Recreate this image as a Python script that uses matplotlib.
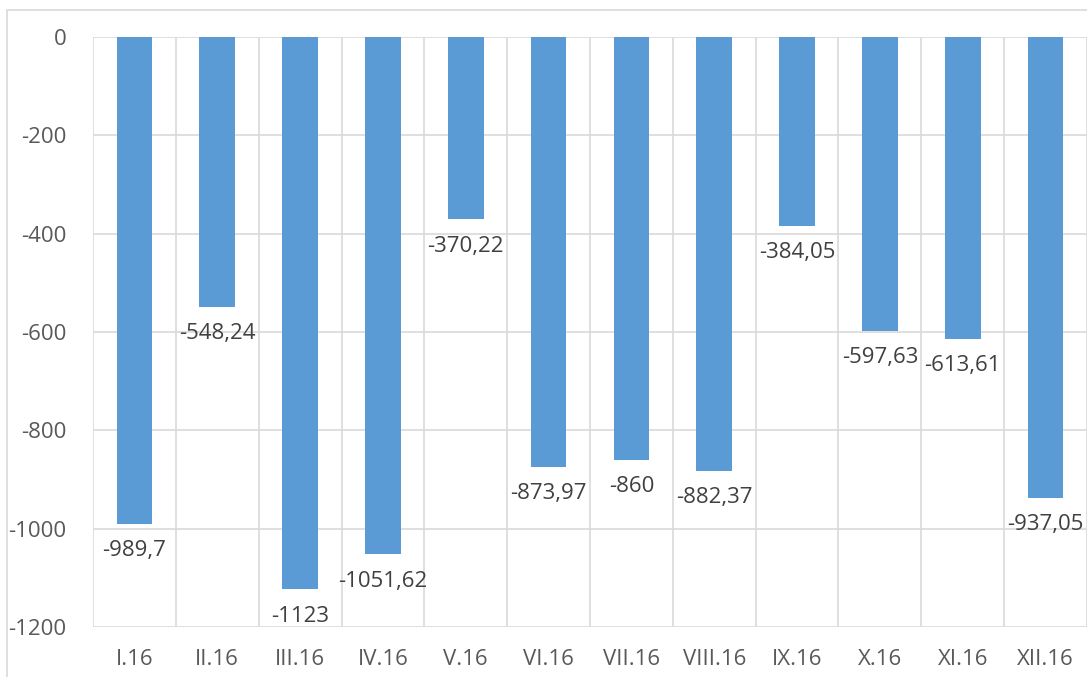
import matplotlib.pyplot as plt
import numpy as np
from matplotlib.patches import Rectangle

months = ["I.16", "II.16", "III.16", "IV.16", "V.16", "VI.16",
          "VII.16", "VIII.16", "IX.16", "X.16", "XI.16", "XII.16"]
values = [-989.7, -548.24, -1123, -1051.62, -370.22, -873.97,
          -860, -882.37, -384.05, -597.63, -613.61, -937.05]
labels = ["-989,7", "-548,24", "-1123", "-1051,62", "-370,22", "-873,97",
          "-860", "-882,37", "-384,05", "-597,63", "-613,61", "-937,05"]
yticks = [0, -200, -400, -600, -800, -1000, -1200]

W, H = 1087, 677
plt.rcParams['font.family'] = ['Open Sans', 'DejaVu Sans']
fig = plt.figure(figsize=(W / 100, H / 100), dpi=100)
# thin frame round the chart area
fig.patches.append(Rectangle((7 / W, -0.01), 1.0, 1 - 10 / H + 0.01,
                             transform=fig.transFigure, fill=False,
                             edgecolor='#d9d9d9', linewidth=1.2))

ax = fig.add_axes([93 / W, 1 - 627 / H, 1 - 93 / W, (627 - 37) / H])
x = np.arange(len(months))
ax.bar(x, values, width=0.43, color='#5b9bd5', zorder=3)

ax.set_xlim(-0.5, len(months) - 0.5)
ax.set_ylim(-1200, 0)

grid = '#d9d9d9'
for b in np.arange(-0.5, len(months), 1.0):
    ax.axvline(b, color=grid, linewidth=1.2, zorder=1)
for t in yticks:
    ax.axhline(t, color=grid, linewidth=1.2, zorder=1)

for sp in ax.spines.values():
    sp.set_visible(False)

ax.set_yticks(yticks)
ax.set_yticklabels([str(t) for t in yticks])
ax.set_xticks(x)
ax.set_xticklabels(months)
ax.tick_params(length=0, colors='#595959', labelsize=16)
ax.tick_params(axis='y', pad=19)
ax.tick_params(axis='x', pad=16)

for xi, v, lab in zip(x, values, labels):
    ax.annotate(lab, (xi, v), xytext=(0, -19.5), textcoords='offset points',
                ha='center', va='center', fontsize=16, color='#404040', zorder=4)

fig.savefig('out.png', dpi=100)
